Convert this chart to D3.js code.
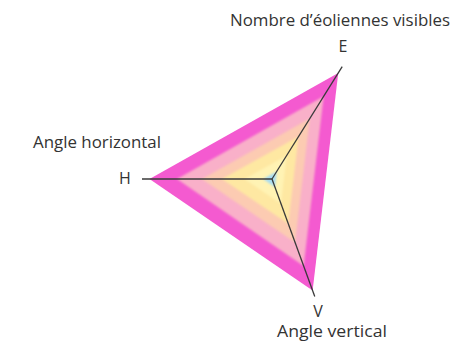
<!DOCTYPE html>
<html lang="fr">
<head>
<meta charset="UTF-8">
<title>Radar</title>
<script src="https://d3js.org/d3.v7.min.js"></script>
<style>
  body { margin: 0; background: #fff; }
  text { font-family: "Open Sans", "Noto Sans", sans-serif; fill: #333; }
</style>
</head>
<body>
<script>
// axes (order: E, H, V)
const axes = ["E", "H", "V"];
const axisNames = ["Nombre d\u2019éoliennes visibles", "Angle horizontal", "Angle vertical"];
const axisMax = [1.06, 1.04, 1.0];

// concentric layers, outer to inner, values per axis
const layerNames = ["l1", "l2", "l3", "l4", "l5", "l6"];
const layerE = [1.00, 0.78, 0.57, 0.40, 0.22, 0.07];
const layerH = [0.98, 0.76, 0.56, 0.40, 0.22, 0.07];
const layerV = [0.95, 0.74, 0.54, 0.38, 0.21, 0.07];
const layerColors = ["#f45ad0", "#f9b0c9", "#fccbb2", "#fee8a2", "#fff3b4", "#a8dcf2"];

const width = 467, height = 346;
const cx = 272, cy = 179;
const angles = [-58, 180, 70].map(d => d * Math.PI / 180);

const r = d3.scaleLinear().domain([0, 1]).range([0, 125]);

const svg = d3.select("body").append("svg")
  .attr("width", width)
  .attr("height", height);

const defs = svg.append("defs");
defs.append("filter").attr("id", "soft")
  .attr("x", "-20%").attr("y", "-20%").attr("width", "140%").attr("height", "140%")
  .append("feGaussianBlur").attr("stdDeviation", 1.2);

const g = svg.append("g").attr("transform", `translate(${cx},${cy})`);

const pt = (v, i) => [r(v) * Math.cos(angles[i]), r(v) * Math.sin(angles[i])];

const layers = layerNames.map((n, k) => ({
  name: n,
  color: layerColors[k],
  values: [layerE[k], layerH[k], layerV[k]]
}));

const line = d3.line().curve(d3.curveLinearClosed);

g.selectAll("path.layer")
  .data(layers)
  .enter().append("path")
  .attr("class", "layer")
  .attr("d", d => line(d.values.map(pt)))
  .attr("fill", d => d.color)
  .attr("filter", (d, k) => k === 0 ? null : "url(#soft)");

// axis lines
g.selectAll("line.axis")
  .data(axes)
  .enter().append("line")
  .attr("class", "axis")
  .attr("x1", 0).attr("y1", 0)
  .attr("x2", (d, i) => pt(axisMax[i], i)[0])
  .attr("y2", (d, i) => pt(axisMax[i], i)[1])
  .attr("stroke", "#3a3a3a")
  .attr("stroke-width", 1.3);

// axis letters
const letterPos = [[71, -127], [-147, 5], [46, 138]];
g.selectAll("text.letter")
  .data(axes)
  .enter().append("text")
  .attr("class", "letter")
  .attr("x", (d, i) => letterPos[i][0])
  .attr("y", (d, i) => letterPos[i][1])
  .attr("text-anchor", "middle")
  .attr("font-size", 16)
  .text(d => d);

// axis names
const namePos = [[68, -153, "middle"], [-239, -31, "start"], [5, 158, "start"]];
g.selectAll("text.name")
  .data(axisNames)
  .enter().append("text")
  .attr("class", "name")
  .attr("x", (d, i) => namePos[i][0])
  .attr("y", (d, i) => namePos[i][1])
  .attr("text-anchor", (d, i) => namePos[i][2])
  .attr("font-size", 16)
  .attr("textLength", (d, i) => [220, 128, 110][i])
  .attr("lengthAdjust", "spacingAndGlyphs")
  .text(d => d);
</script>
</body>
</html>
